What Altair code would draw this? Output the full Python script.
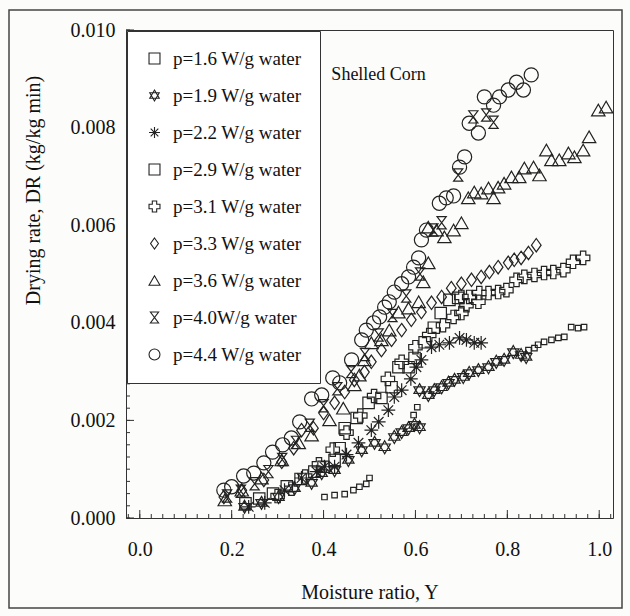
import altair as alt
import pandas as pd

labels = ["p=1.6 W/g water", "p=1.9 W/g water", "p=2.2 W/g water", "p=2.9 W/g water",
          "p=3.1 W/g water", "p=3.3 W/g water", "p=3.6 W/g water", "p=4.0W/g water",
          "p=4.4 W/g water"]

x16 = [0.402, 0.424, 0.446, 0.465, 0.478, 0.493, 0.500, 0.596, 0.604, 0.846, 0.859, 0.867,
       0.880, 0.896, 0.911, 0.924, 0.939, 0.954, 0.967]
y16 = [0.00043, 0.00047, 0.00049, 0.00057, 0.00064, 0.00070, 0.00082, 0.00211, 0.00227, 0.00344,
       0.00348, 0.00355, 0.00361, 0.00365, 0.00369, 0.00371, 0.00391, 0.00389, 0.00391]

x19 = [0.228, 0.265, 0.302, 0.337, 0.374, 0.396, 0.424, 0.454, 0.483, 0.511, 0.533, 0.554, 0.570,
       0.585, 0.598, 0.609, 0.609, 0.628, 0.641, 0.657, 0.672, 0.685, 0.704, 0.717, 0.737, 0.759,
       0.776, 0.793, 0.813, 0.830, 0.841]
y19 = [0.00023, 0.00031, 0.00043, 0.00061, 0.00072, 0.00092, 0.00098, 0.00119, 0.00139, 0.00154,
       0.00145, 0.00166, 0.00176, 0.00184, 0.00191, 0.00186, 0.00262, 0.00252, 0.00262, 0.00268,
       0.00277, 0.00283, 0.00289, 0.00297, 0.00303, 0.00309, 0.00320, 0.00324, 0.00340, 0.00334,
       0.00330]

x22 = [0.237, 0.272, 0.315, 0.352, 0.385, 0.402, 0.424, 0.450, 0.476, 0.504, 0.520, 0.541, 0.554,
       0.570, 0.590, 0.602, 0.613, 0.635, 0.652, 0.674, 0.696, 0.711, 0.728, 0.743]
y22 = [0.00023, 0.00031, 0.00057, 0.00082, 0.00095, 0.00105, 0.00105, 0.00130, 0.00154, 0.00180,
       0.00197, 0.00221, 0.00248, 0.00262, 0.00285, 0.00309, 0.00324, 0.00350, 0.00355, 0.00359,
       0.00369, 0.00365, 0.00359, 0.00359]

x29 = [0.23, 0.26, 0.29, 0.32, 0.35, 0.38, 0.40, 0.424, 0.435, 0.446, 0.472, 0.498, 0.526, 0.548,
       0.563, 0.585, 0.598, 0.62, 0.64, 0.655, 0.674, 0.693]
y29 = [0.00030, 0.00040, 0.00050, 0.00065, 0.00080, 0.00095, 0.00105, 0.00119, 0.00143, 0.00184,
       0.00205, 0.00236, 0.00246, 0.00268, 0.00309, 0.00309, 0.00328, 0.00360, 0.00390, 0.00420,
       0.00447, 0.00451]

x31 = [0.30, 0.33, 0.36, 0.39, 0.42, 0.45, 0.48, 0.51, 0.54, 0.57, 0.60, 0.63, 0.66, 0.683, 0.700,
       0.711, 0.737, 0.700, 0.717, 0.739, 0.759, 0.780, 0.798, 0.820, 0.837, 0.859, 0.880, 0.900,
       0.922, 0.943, 0.965]
y31 = [0.00045, 0.00060, 0.00085, 0.00110, 0.00140, 0.00175, 0.00210, 0.00250, 0.00285, 0.00320,
       0.00350, 0.00375, 0.00395, 0.00412, 0.00420, 0.00436, 0.00443, 0.00453, 0.00453, 0.00461,
       0.00461, 0.00463, 0.00467, 0.00488, 0.00494, 0.00498, 0.00502, 0.00504, 0.00508, 0.00525,
       0.00533]

x33 = [0.183, 0.222, 0.270, 0.309, 0.335, 0.352, 0.378, 0.400, 0.424, 0.446, 0.467, 0.489, 0.504,
       0.526, 0.548, 0.570, 0.591, 0.613, 0.635, 0.657, 0.678, 0.700, 0.722, 0.743, 0.761, 0.780,
       0.802, 0.815, 0.830, 0.846, 0.863]
y33 = [0.00043, 0.00057, 0.00078, 0.00115, 0.00143, 0.00180, 0.00184, 0.00215, 0.00236, 0.00258,
       0.00283, 0.00299, 0.00320, 0.00344, 0.00365, 0.00385, 0.00406, 0.00422, 0.00441, 0.00453,
       0.00471, 0.00480, 0.00488, 0.00494, 0.00504, 0.00514, 0.00523, 0.00529, 0.00533, 0.00543,
       0.00559]

x36 = [0.185, 0.222, 0.265, 0.309, 0.346, 0.374, 0.413, 0.443, 0.467, 0.478, 0.489, 0.504, 0.526,
       0.543, 0.563, 0.585, 0.607, 0.617, 0.628, 0.628, 0.646, 0.663, 0.683, 0.700, 0.715, 0.728,
       0.743, 0.759, 0.770, 0.780, 0.793, 0.809, 0.826, 0.837, 0.857, 0.870, 0.885, 0.896, 0.913,
       0.933, 0.946, 0.965, 0.978, 0.998, 1.015]
y36 = [0.00037, 0.00057, 0.00082, 0.00119, 0.00154, 0.00170, 0.00201, 0.00225, 0.00273, 0.00293,
       0.00324, 0.00359, 0.00365, 0.00385, 0.00422, 0.00430, 0.00443, 0.00484, 0.00523, 0.00596,
       0.00590, 0.00576, 0.00590, 0.00605, 0.00656, 0.00668, 0.00666, 0.00676, 0.00656, 0.00678,
       0.00686, 0.00699, 0.00699, 0.00717, 0.00719, 0.00703, 0.00754, 0.00734, 0.00734, 0.00748,
       0.00740, 0.00754, 0.00781, 0.00836, 0.00842]

x40 = [0.19, 0.22, 0.25, 0.28, 0.31, 0.34, 0.37, 0.40, 0.43, 0.46, 0.49, 0.52, 0.55, 0.58, 0.61,
       0.639, 0.657, 0.693, 0.726, 0.754, 0.770]
y40 = [0.00045, 0.00055, 0.00070, 0.00095, 0.00120, 0.00155, 0.00190, 0.00230, 0.00265, 0.00300,
       0.00335, 0.00375, 0.00415, 0.00455, 0.00500, 0.00590, 0.00605, 0.00703, 0.00822, 0.00826,
       0.00811]

x44 = [0.183, 0.200, 0.226, 0.248, 0.270, 0.289, 0.311, 0.330, 0.348, 0.374, 0.396, 0.420, 0.435,
       0.461, 0.483, 0.493, 0.509, 0.522, 0.533, 0.543, 0.554, 0.570, 0.585, 0.596, 0.607, 0.613,
       0.624, 0.652, 0.667, 0.683, 0.696, 0.707, 0.717, 0.737, 0.750, 0.770, 0.783, 0.802, 0.820,
       0.835, 0.852]
y44 = [0.00057, 0.00064, 0.00086, 0.00092, 0.00113, 0.00135, 0.00150, 0.00164, 0.00197, 0.00244,
       0.00252, 0.00287, 0.00277, 0.00324, 0.00365, 0.00385, 0.00400, 0.00412, 0.00432, 0.00443,
       0.00463, 0.00480, 0.00494, 0.00514, 0.00533, 0.00570, 0.00590, 0.00645, 0.00656, 0.00660,
       0.00719, 0.00740, 0.00809, 0.00789, 0.00863, 0.00846, 0.00863, 0.00877, 0.00893, 0.00877,
       0.00908]

x_ticks = [0.0, 0.2, 0.4, 0.6, 0.8, 1.0]
y_ticks = [0.000, 0.002, 0.004, 0.006, 0.008, 0.010]
x_minor = [i / 40 for i in range(-1, 42)]
y_minor = [i * 0.00025 for i in range(0, 41)]

annot_x = [0.417]
annot_y = [0.00908]
annot_t = ["Shelled Corn"]

xs_all = [x16, x19, x22, x29, x31, x33, x36, x40, x44]
ys_all = [y16, y19, y22, y29, y31, y33, y36, y40, y44]
rows = []
for lab, xs, ys in zip(labels, xs_all, ys_all):
    for a, b in zip(xs, ys):
        rows.append({"series": lab, "grp": lab, "Y": a, "DR": b})
df = pd.DataFrame(rows)

shapes = [
    "square",
    "M0,-1L0.866,0.5L-0.866,0.5Z M0,1L-0.866,-0.5L0.866,-0.5Z",
    "M0,-1L0,1M-1,0L1,0M-0.7,-0.7L0.7,0.7M-0.7,0.7L0.7,-0.7",
    "square",
    "cross",
    "M0,-1L0.72,0L0,1L-0.72,0Z",
    "triangle-up",
    "M-0.75,-1L0.75,-1L-0.75,1L0.75,1Z",
    "circle",
]
sizes = [30, 170, 190, 130, 180, 180, 180, 150, 200]

W, H = 487, 488
FONT = "Liberation Serif"
INK = "#222222"

xscale = alt.Scale(domain=[-0.03, 1.03], nice=False, zero=False)
yscale = alt.Scale(domain=[0, 0.010], nice=False, zero=False)

points = alt.Chart(df).mark_point(filled=False, strokeWidth=1.2, color=INK, opacity=1).encode(
    x=alt.X("Y:Q", scale=xscale,
            axis=alt.Axis(values=x_ticks, format=".1f", title="Moisture ratio, Y",
                          ticks=False, domain=False, grid=False, labelPadding=21,
                          labelFont=FONT, labelFontSize=20, labelColor="#111",
                          titleFont=FONT, titleFontSize=20, titleFontWeight="normal",
                          titleColor="#111", titleY=74, titleBaseline="middle")),
    y=alt.Y("DR:Q", scale=yscale,
            axis=alt.Axis(values=y_ticks, format=".3f", title="Drying rate, DR (kg/kg min)",
                          ticks=False, domain=False, grid=False, labelPadding=11,
                          labelFont=FONT, labelFontSize=20, labelColor="#111",
                          titleFont=FONT, titleFontSize=20, titleFontWeight="normal",
                          titleColor="#111", titleX=-93, titleY=160,
                          titleBaseline="middle")),
    shape=alt.Shape("series:N", scale=alt.Scale(domain=labels, range=shapes),
                    legend=alt.Legend(title=None, orient="top-left", offset=1, padding=18,
                                      strokeColor="#333", fillColor="white",
                                      labelFont=FONT, labelFontSize=19, labelColor="#111",
                                      symbolSize=120, symbolStrokeColor=INK,
                                      symbolStrokeWidth=1.1, symbolFillColor="transparent",
                                      rowPadding=17, labelOffset=9, labelLimit=400)),
    # size scale domain listed in reverse so its legend is not merged with the shape legend
    size=alt.Size("grp:N", scale=alt.Scale(type="ordinal", domain=labels[::-1], range=sizes[::-1]),
                  legend=None),
)

xminor_rules = alt.Chart(pd.DataFrame({"Y": x_minor})).mark_rule(color="#333", strokeWidth=1).encode(
    x=alt.X("Y:Q", scale=xscale), y=alt.value(H), y2=alt.value(H - 4))
xmajor_rules = alt.Chart(pd.DataFrame({"Y": x_ticks})).mark_rule(color="#333", strokeWidth=1).encode(
    x=alt.X("Y:Q", scale=xscale), y=alt.value(H), y2=alt.value(H - 8))
yminor_rules = alt.Chart(pd.DataFrame({"DR": y_minor})).mark_rule(color="#333", strokeWidth=1).encode(
    y=alt.Y("DR:Q", scale=yscale), x=alt.value(0), x2=alt.value(4))
ymajor_rules = alt.Chart(pd.DataFrame({"DR": y_ticks})).mark_rule(color="#333", strokeWidth=1).encode(
    y=alt.Y("DR:Q", scale=yscale), x=alt.value(0), x2=alt.value(8))

annot = alt.Chart(pd.DataFrame({"Y": annot_x, "DR": annot_y, "t": annot_t})).mark_text(
    align="left", baseline="middle", font=FONT, fontSize=18, color="#111").encode(
    x=alt.X("Y:Q", scale=xscale), y=alt.Y("DR:Q", scale=yscale), text="t:N")

frame = alt.Chart(alt.InlineData(values=[{"k": 1}])).mark_rect(
    fill="transparent", stroke="#444", strokeWidth=1.5).encode(
    x=alt.value(-117), x2=alt.value(496), y=alt.value(-20), y2=alt.value(578))

chart = alt.layer(frame, xminor_rules, xmajor_rules, yminor_rules, ymajor_rules, points, annot).properties(
    width=W, height=H,
    autosize=alt.AutoSizeParams(type="none"),
    padding={"left": 126, "top": 30, "right": 17, "bottom": 98},
    background="#fcfcfa",
).configure_view(stroke="#333", strokeWidth=1)

chart.save("out.html", embed_options={"renderer": "svg", "actions": False})
